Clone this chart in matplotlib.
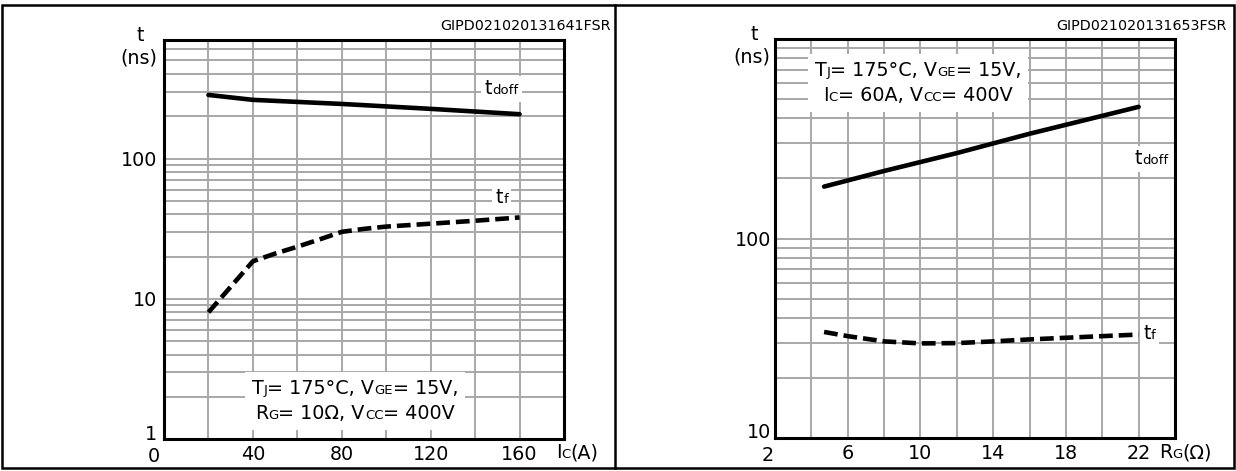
import matplotlib
matplotlib.use('Agg')
import matplotlib.pyplot as plt
from matplotlib.offsetbox import TextArea, HPacker, VPacker, AnnotationBbox
from matplotlib.ticker import FixedLocator, NullFormatter
from matplotlib.transforms import ScaledTranslation
from matplotlib.lines import Line2D
from matplotlib.patches import Rectangle

plt.rcParams['font.family'] = ['DejaVu Sans']

# ---------------- data ----------------
# left chart: switching times vs collector current
ic_tdoff = [20, 40, 80, 120, 160]
tdoff_vs_ic = [284, 262, 245, 226, 207]
ic_tf = [20, 40, 50, 60, 70, 80, 90, 100, 120, 140, 160]
tf_vs_ic = [8, 18.5, 21, 23.5, 26.5, 30, 31.5, 32.7, 34.3, 36, 38]

# right chart: switching times vs gate resistance
rg_tdoff = [4.7, 8, 12, 16, 20, 22]
tdoff_vs_rg = [182, 218, 268, 335, 412, 457]
rg_tf = [4.7, 6, 8, 10, 12, 14, 16, 18, 20, 22]
tf_vs_rg = [34, 32.4, 30.5, 29.8, 29.9, 30.5, 31.2, 31.8, 32.4, 33.0]

left_xticks = [0, 40, 80, 120, 160]
left_xminor = [20, 60, 100, 140, 180]
left_yticks = [1, 10, 100]
right_xticks = [2, 6, 10, 14, 18, 22]
right_xminor = [4, 8, 12, 16, 20, 24]
right_yticks = [10, 100]

BIG = 13.8
SMALL = 9.5
GRID = '#a8a8a8'


def rich(parts, big=BIG, small=SMALL):
    kids = [TextArea(t, textprops=dict(size=small if s else big, color='black'))
            for t, s in parts]
    return HPacker(children=kids, align='baseline', pad=0, sep=0)


fig = plt.figure(figsize=(12.36, 4.71), dpi=100)

# outer frame and divider
fig.add_artist(Rectangle((2 / 1236, 3 / 471), 1232 / 1236, 463 / 471,
                         transform=fig.transFigure, fill=False,
                         edgecolor='black', lw=1.8))
fig.add_artist(Line2D([615 / 1236, 615 / 1236], [3 / 471, 466 / 471],
                      transform=fig.transFigure, color='black', lw=1.8))

axL = fig.add_axes([164 / 1236, 32 / 471, 400 / 1236, 399 / 471])
axR = fig.add_axes([775 / 1236, 33 / 471, 400 / 1236, 399 / 471])


def style(ax, xlim, ylim, xt, xminor, yt, xshift, xdown, yshift, ypad):
    ax.set_yscale('log')
    ax.set_xlim(*xlim)
    ax.set_ylim(*ylim)
    ax.xaxis.set_major_locator(FixedLocator(xt))
    ax.xaxis.set_minor_locator(FixedLocator(xminor))
    ax.set_xticklabels([str(v) for v in xt])
    ax.yaxis.set_major_locator(FixedLocator(yt))
    ax.set_yticklabels([str(v) for v in yt])
    ax.yaxis.set_minor_formatter(NullFormatter())
    ax.tick_params(which='both', length=0, labelsize=BIG)
    ax.tick_params(axis='y', pad=ypad)
    ax.tick_params(axis='x', pad=4)
    ax.grid(which='both', color=GRID, lw=1.4)
    ax.set_axisbelow(True)
    for s in ax.spines.values():
        s.set_linewidth(2.2)
        s.set_color('black')
        s.set_zorder(5)
    lab = ax.get_xticklabels()[0]
    lab.set_transform(lab.get_transform() +
                      ScaledTranslation(xshift / 100, -xdown / 100, fig.dpi_scale_trans))
    lab = ax.get_yticklabels()[0]
    lab.set_transform(lab.get_transform() +
                      ScaledTranslation(0, yshift / 100, fig.dpi_scale_trans))


style(axL, (0, 180), (1, 700), left_xticks, left_xminor, left_yticks, -10, 2, 6, 5)
style(axR, (2, 24), (10, 1000), right_xticks, right_xminor, right_yticks, -7, 2, 7, 2.5)
axR.yaxis.set_minor_locator(FixedLocator(
    [k * 10 ** d for d in (1, 2) for k in range(2, 10)]))

# curves
axL.plot(ic_tdoff, tdoff_vs_ic, color='black', lw=3.3, solid_capstyle='round', zorder=3)
axL.plot(ic_tf, tf_vs_ic, color='black', lw=3.3, linestyle=(0, (3.0, 1.3)), zorder=3)
axR.plot(rg_tdoff, tdoff_vs_rg, color='black', lw=3.3, solid_capstyle='round', zorder=3)
axR.plot(rg_tf, tf_vs_rg, color='black', lw=3.3, linestyle=(0, (3.0, 1.3)), zorder=3)

# y axis labels
for ax, dx in ((axL, -0.06), (axR, -0.053)):
    ax.text(dx, 1.012, 't', transform=ax.transAxes, ha='center', va='center', fontsize=BIG)
    ax.text(dx - 0.004, 0.955, '(ns)', transform=ax.transAxes, ha='center', va='center', fontsize=BIG)

# x axis labels
axL.add_artist(AnnotationBbox(rich([('I', 0), ('C', 1), ('(A)', 0)]), (0.98, -0.035),
                              xycoords='axes fraction', box_alignment=(0, 0.5),
                              frameon=False, annotation_clip=False))
axR.add_artist(AnnotationBbox(rich([('R', 0), ('G', 1), ('(Ω)', 0)]), (0.96, -0.037),
                              xycoords='axes fraction', box_alignment=(0, 0.5),
                              frameon=False, annotation_clip=False))

# condition boxes
def cond_box(ax, line1, line2, xy):
    box = VPacker(children=[rich(line1), rich(line2)], align='center', pad=0, sep=4)
    ab = AnnotationBbox(box, xy, xycoords='axes fraction', box_alignment=(0.5, 0.5),
                        frameon=True, pad=0.5,
                        bboxprops=dict(facecolor='white', edgecolor='none'))
    ab.set_zorder(4)
    ax.add_artist(ab)


cond_box(axL,
         [('T', 0), ('J', 1), ('= 175°C, V', 0), ('GE', 1), ('= 15V,', 0)],
         [('R', 0), ('G', 1), ('= 10Ω, V', 0), ('CC', 1), ('= 400V', 0)],
         (0.4775, 0.095))
cond_box(axR,
         [('T', 0), ('J', 1), ('= 175°C, V', 0), ('GE', 1), ('= 15V,', 0)],
         [('I', 0), ('C', 1), ('= 60A, V', 0), ('CC', 1), ('= 400V', 0)],
         (0.3575, 0.89))

# curve labels
def curve_label(ax, parts, xy):
    ab = AnnotationBbox(rich(parts), xy, xycoords='data', box_alignment=(0.5, 0.5),
                        frameon=True, pad=0.25,
                        bboxprops=dict(facecolor='white', edgecolor='none'))
    ab.set_zorder(4)
    ax.add_artist(ab)


curve_label(axL, [('t', 0), ('doff', 1)], (152, 315))
curve_label(axL, [('t', 0), ('f', 1)], (152, 53))
curve_label(axR, [('t', 0), ('doff', 1)], (22.7, 251))
curve_label(axR, [('t', 0), ('f', 1)], (22.6, 33.5))

# figure codes
fig.text(611 / 1236, 1 - 26 / 471, 'GIPD021020131641FSR', ha='right', va='center', fontsize=10.3)
fig.text(1227 / 1236, 1 - 26 / 471, 'GIPD021020131653FSR', ha='right', va='center', fontsize=10.3)

fig.savefig('out.png', dpi=100)
